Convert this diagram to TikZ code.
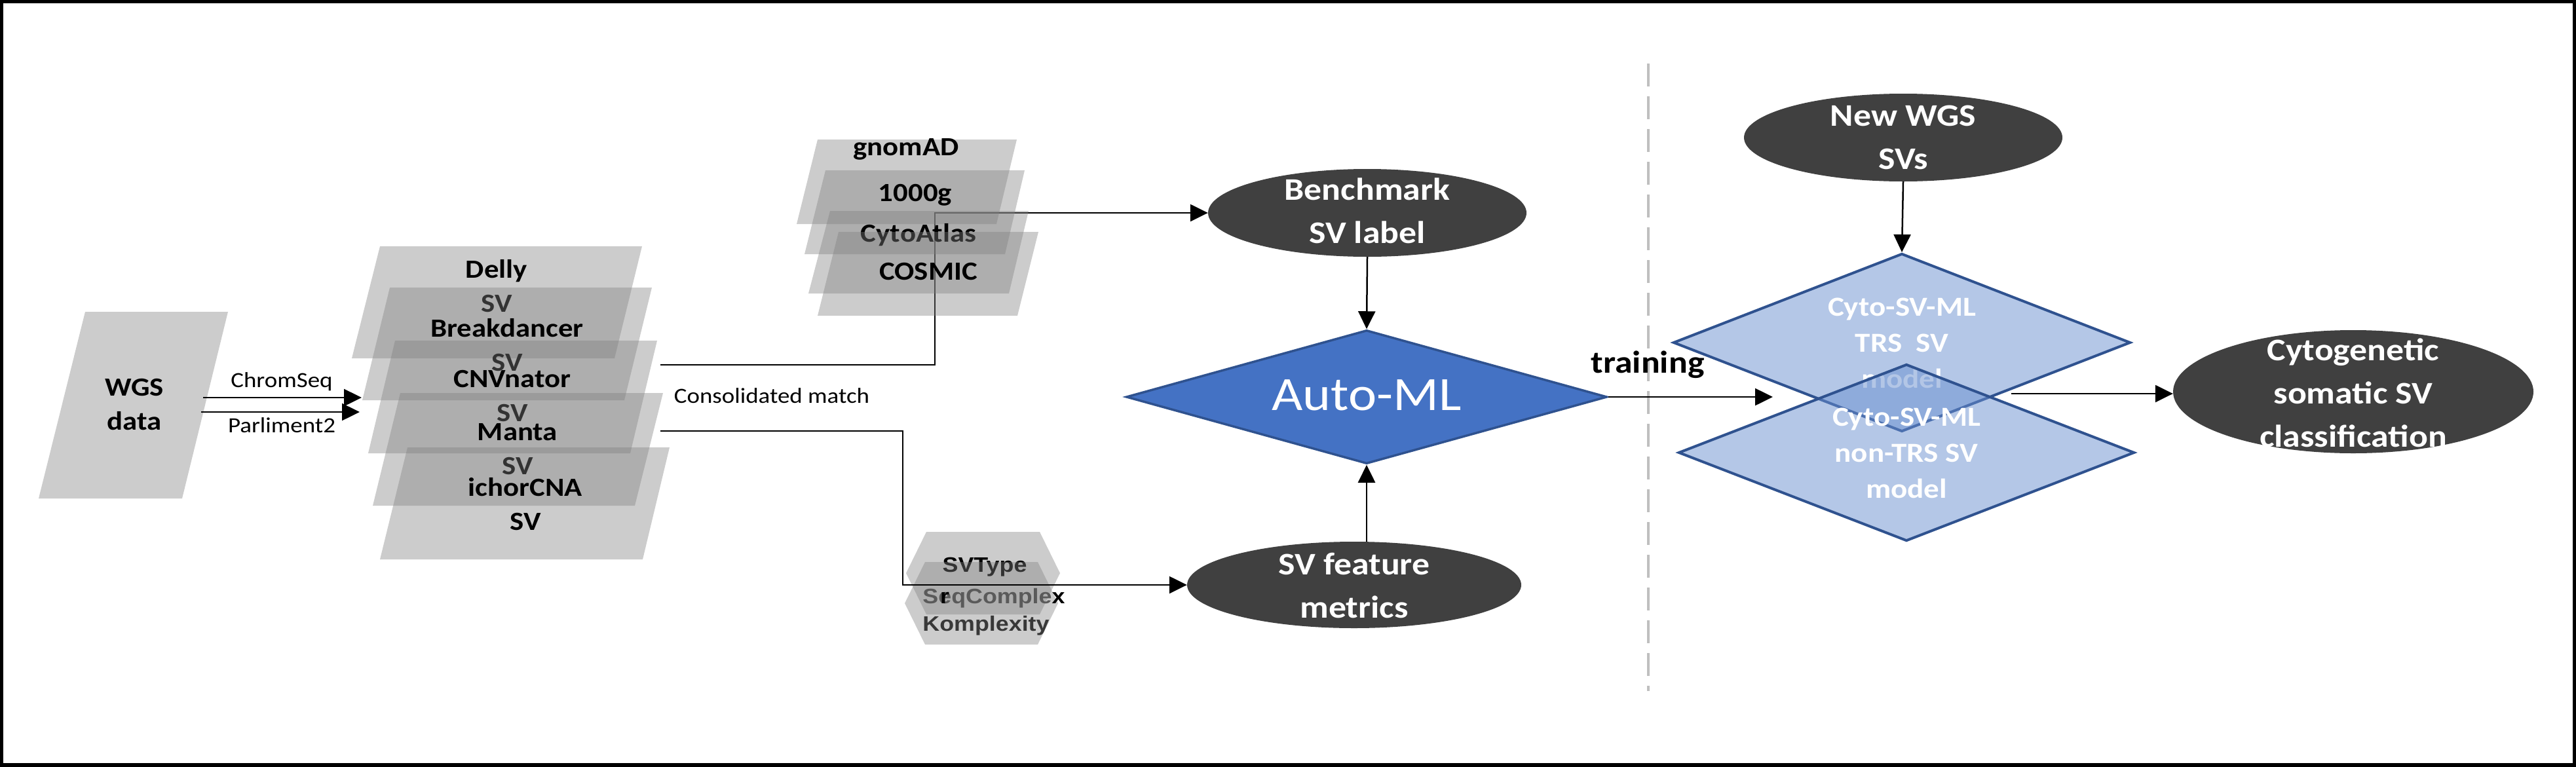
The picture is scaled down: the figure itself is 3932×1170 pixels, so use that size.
\documentclass[tikz,border=0pt]{standalone}
\usepackage{fontspec}
\setmainfont{Carlito}[FakeStretch=1.12]
\newfontfamily\hexfont{Liberation Sans}[FakeStretch=1.12]
\usetikzlibrary{arrows.meta,shapes.geometric}
\definecolor{ellgray}{HTML}{404040}
\definecolor{amlblue}{HTML}{4472C4}
\definecolor{edgeblue}{HTML}{2F528F}
\definecolor{lblue}{HTML}{698FCF}
\definecolor{dashgray}{HTML}{BFBFBF}
\definecolor{hexgray}{HTML}{5A5A5A}
\definecolor{komgray}{HTML}{383838}
\newcommand\fsz[2]{\fontsize{#1}{#2}\selectfont}
\begin{document}
\begin{tikzpicture}[x=1pt,y=-1pt,
  pgfill/.style={fill=black!50,fill opacity=0.4},
  conn/.style={line width=2.5pt,draw=black},
  arr/.style={conn,-{Triangle[length=27pt,width=26pt]}},
  darkell/.style={ellipse,fill=ellgray,inner sep=0pt},
  elltext/.style={text=white,font=\bfseries\fsz{48}{66},align=center,inner sep=0pt},
  toolt/.style={font=\bfseries\fsz{40}{52},align=center,inner sep=0pt},
  dbt/.style={font=\bfseries\fsz{40}{48},inner sep=0pt,text height=28pt,text depth=9pt},
  smallt/.style={font=\fsz{33}{40},inner sep=0pt,text height=23pt,text depth=7pt},
  hext/.style={font=\hexfont\bfseries\fsz{32}{38},inner sep=0pt,text height=24pt,text depth=7pt},
  dia/.style={diamond,inner sep=0pt,line width=4pt,draw=edgeblue},
  diat/.style={text=white,font=\bfseries\fsz{42}{55},align=center,inner sep=0pt},
]
\useasboundingbox (0,0) rectangle (3932,1170);
\draw[line width=10pt] (0,0) rectangle (3932,1170);

% dashed separator
\coordinate (dtop) at (2516,97);
\coordinate (dbot) at (2516,1055);
\draw[dashgray,line width=4.5pt,dash pattern=on 35pt off 15pt] (dtop) -- (dbot);

% WGS data
\fill[pgfill] (130,476) -- (348,476) -- (278,761) -- (59,761) -- cycle;
\node[toolt] (wgs) at (205,618) {WGS\\data};
\coordinate (wgsA) at (310,607);
\coordinate (wgsB) at (307,629);
\coordinate (toolA) at (552,607);
\coordinate (toolB) at (549,629);

% tools stack
\fill[pgfill] (580,376) -- (980,376) -- (938,547) -- (537,547) -- cycle;
\node[toolt] (delly) at (758,437) {Delly\\SV};
\fill[pgfill] (595,439) -- (995,439) -- (953,611) -- (553,611) -- cycle;
\node[toolt] (bdancer) at (774,527) {Breakdancer\\SV};
\fill[pgfill] (603,520) -- (1003,520) -- (962,692) -- (562,692) -- cycle;
\node[toolt] (cnv) at (782,605) {CNVnator\\SV};
\fill[pgfill] (611,600) -- (1012,600) -- (969,772) -- (569,772) -- cycle;
\node[toolt] (manta) at (790,686) {Manta\\SV};
\fill[pgfill] (622,683) -- (1022,683) -- (981,854) -- (580,854) -- cycle;
\node[toolt] (ichor) at (802,770) {ichorCNA\\SV};

\draw[arr] (wgsA) -- (toolA);
\draw[arr] (wgsB) -- (toolB);
\node[smallt] (chromseq) at (430,583) {ChromSeq};
\node[smallt] (parl) at (430,652) {Parliment2};

% ellipses
\node[darkell,minimum width=486pt,minimum height=134pt] (bench) at (2087,325) {};
\node[elltext] (benchT) at (2087,322) {Benchmark\\SV label};
\node[darkell,minimum width=510pt,minimum height=132pt] (svf) at (2067,893) {};
\node[elltext] (svfT) at (2067,894) {SV feature\\metrics};
\node[darkell,minimum width=486pt,minimum height=134pt] (newwgs) at (2905,210) {};
\node[elltext] (newwgsT) at (2905,210) {New WGS\\SVs};
\node[darkell,minimum width=550pt,minimum height=188pt] (cyto) at (3592,598) {};
\node[elltext] (cytoT) at (3592,600) {Cytogenetic\\somatic SV\\classification};

% connectors from tools
\coordinate (cA) at (1008,557);
\coordinate (cB) at (1008,658);
\coordinate (bendA) at (1427,325);
\coordinate (bendB) at (1378,893);
\draw[arr] (cA) -| (bendA) -- (bench.west);
\node[smallt] (consol) at (1178,607) {Consolidated match};

% databases stack
\fill[pgfill] (1248,213) -- (1552,213) -- (1521,342) -- (1216,342) -- cycle;
\node[dbt] (gnomad) at (1383,228) {gnomAD};
\fill[pgfill] (1260,260) -- (1564,260) -- (1534,388) -- (1228,388) -- cycle;
\node[dbt] (kg) at (1397,298) {1000g};
\fill[pgfill] (1267,322) -- (1570,322) -- (1540,448) -- (1234,448) -- cycle;
\node[dbt] (cytoatlas) at (1402,360) {CytoAtlas};
\fill[pgfill] (1280,354) -- (1585,354) -- (1553,482) -- (1248,482) -- cycle;
\node[dbt] (cosmic) at (1417,418) {COSMIC};

% feature hexagons
\fill[pgfill] (1414,812) -- (1587,812) -- (1618,875) -- (1587,938) -- (1414,938) -- (1383,875) -- cycle;
\node[hext] (svtype) at (1503,865) {SVType};
\fill[pgfill] (1412,858) -- (1584,858) -- (1615,921) -- (1584,984) -- (1412,984) -- (1381,921) -- cycle;
\node[hext] (seqc) at (1517,913) {\textcolor{hexgray}{SeqComple}x};
\node[hext] (rchar) at (1442,913) {r};
\node[hext,text=komgray] (komp) at (1505,955) {Komplexity};
\draw[arr] (cB) -| (bendB) -- (svf.west);

% Auto-ML
\node[diamond,inner sep=0pt,line width=3.5pt,draw=edgeblue,fill=amlblue,minimum width=734pt,minimum height=204pt] (aml) at (2086,606) {};
\node[text=white,font=\fsz{73}{80},inner sep=0pt] (amlT) at (2086,603) {Auto-ML};
\draw[arr] (bench.south) -- (aml.north);
\draw[arr] (aml.south |- svf.north) -- (aml.south);
\coordinate (trtip) at (2706,606);
\draw[arr] (aml.east) -- (trtip);
\node[font=\bfseries\fsz{48}{56},inner sep=0pt] (training) at (2515,557) {training};

% models
\node[dia,fill=lblue,fill opacity=0.5,draw opacity=1,minimum width=698pt,minimum height=272pt] (trs) at (2903,523) {};
\node[diat] (trsT) at (2903,524) {Cyto-SV-ML\\TRS~~SV\\model};
\node[dia,fill=lblue,fill opacity=0.5,draw opacity=1,minimum width=696pt,minimum height=270pt] (ntrs) at (2910,691) {};
\node[diat] (ntrsT) at (2910,692) {Cyto-SV-ML\\non-TRS SV\\model};
\draw[arr] (newwgs.south) -- (trs.north);
\coordinate (outA) at (3070,601);
\draw[arr] (outA) -- (outA -| cyto.west);
\end{tikzpicture}
\end{document}
